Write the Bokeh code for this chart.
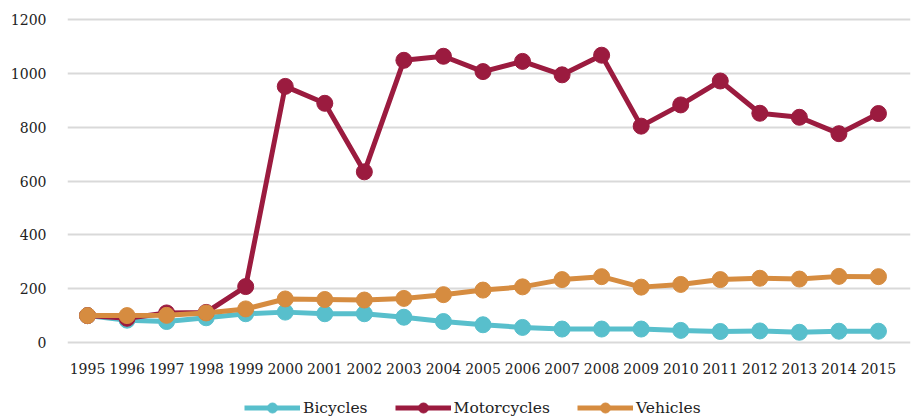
from bokeh.plotting import figure
from bokeh.models import Range1d, FixedTicker, Legend, LegendItem
from bokeh.layouts import column
from bokeh.embed import file_html
from bokeh.resources import INLINE

years = list(range(1995, 2016))
bicycles = [100, 83, 78, 92, 107, 113, 107, 107, 94, 78, 66, 56, 50, 50, 50, 45, 41, 43, 38, 42, 42]
motorcycles = [100, 90, 110, 112, 208, 953, 890, 635, 1050, 1065, 1008, 1046, 996, 1069, 805, 884, 973, 853, 838, 777, 852]
vehicles = [100, 100, 101, 110, 125, 162, 160, 158, 164, 178, 195, 207, 234, 245, 206, 216, 234, 239, 236, 246, 245]
series_names = ["Bicycles", "Motorcycles", "Vehicles"]
colors = ["#58bfcc", "#9b1b3f", "#d68c40"]
y_ticks = [0, 200, 400, 600, 800, 1000, 1200]

FONT = "DejaVu Serif"

p = figure(width=916, height=392, output_backend="svg", toolbar_location=None,
           x_range=Range1d(1994.494, 2015.81), y_range=Range1d(-29.8, 1227.9),
           min_border_left=67, min_border_right=6, min_border_top=12, min_border_bottom=42)
p.outline_line_color = None
p.background_fill_color = "white"

for name, vals, c in zip(series_names, [bicycles, motorcycles, vehicles], colors):
    p.line(years, vals, line_color=c, line_width=5)
    p.scatter(years, vals, size=16, fill_color=c, line_color=c)

p.xgrid.grid_line_color = None
p.ygrid.grid_line_color = "#d9d9d9"
p.ygrid.grid_line_width = 2
p.yaxis.ticker = FixedTicker(ticks=y_ticks)
p.xaxis.ticker = FixedTicker(ticks=years)
for ax in (p.xaxis, p.yaxis):
    ax.axis_line_color = None
    ax.major_tick_line_color = None
    ax.minor_tick_line_color = None
    ax.major_label_text_font = FONT
    ax.major_label_text_font_size = "14px"
    ax.major_label_text_color = "#222222"
p.yaxis.major_label_standoff = 15
p.xaxis.major_label_standoff = 6

# legend strip below the chart (same series, plotted out of view so only the legend shows)
p2 = figure(width=916, height=28, output_backend="svg", toolbar_location=None,
            x_range=Range1d(1994.494, 2015.81), y_range=Range1d(5000, 6000),
            min_border_left=0, min_border_right=0, min_border_top=0, min_border_bottom=0)
p2.outline_line_color = None
p2.axis.visible = False
p2.grid.visible = False
items = []
for name, vals, c in zip(series_names, [bicycles, motorcycles, vehicles], colors):
    l = p2.line(years, vals, line_color=c, line_width=5)
    s = p2.scatter(years, vals, size=16, fill_color=c, line_color=c)
    items.append(LegendItem(label=name, renderers=[l, s]))
legend = Legend(items=items, orientation="horizontal", location=(177, 0),
                glyph_width=56, glyph_height=25, label_standoff=3, spacing=27,
                label_text_font=FONT, label_text_font_size="15.5px", label_text_color="#222222",
                background_fill_alpha=0, border_line_color=None, padding=0, margin=0)
p2.add_layout(legend)

open("out.html", "w").write(file_html(column(p, p2, spacing=0), INLINE))
